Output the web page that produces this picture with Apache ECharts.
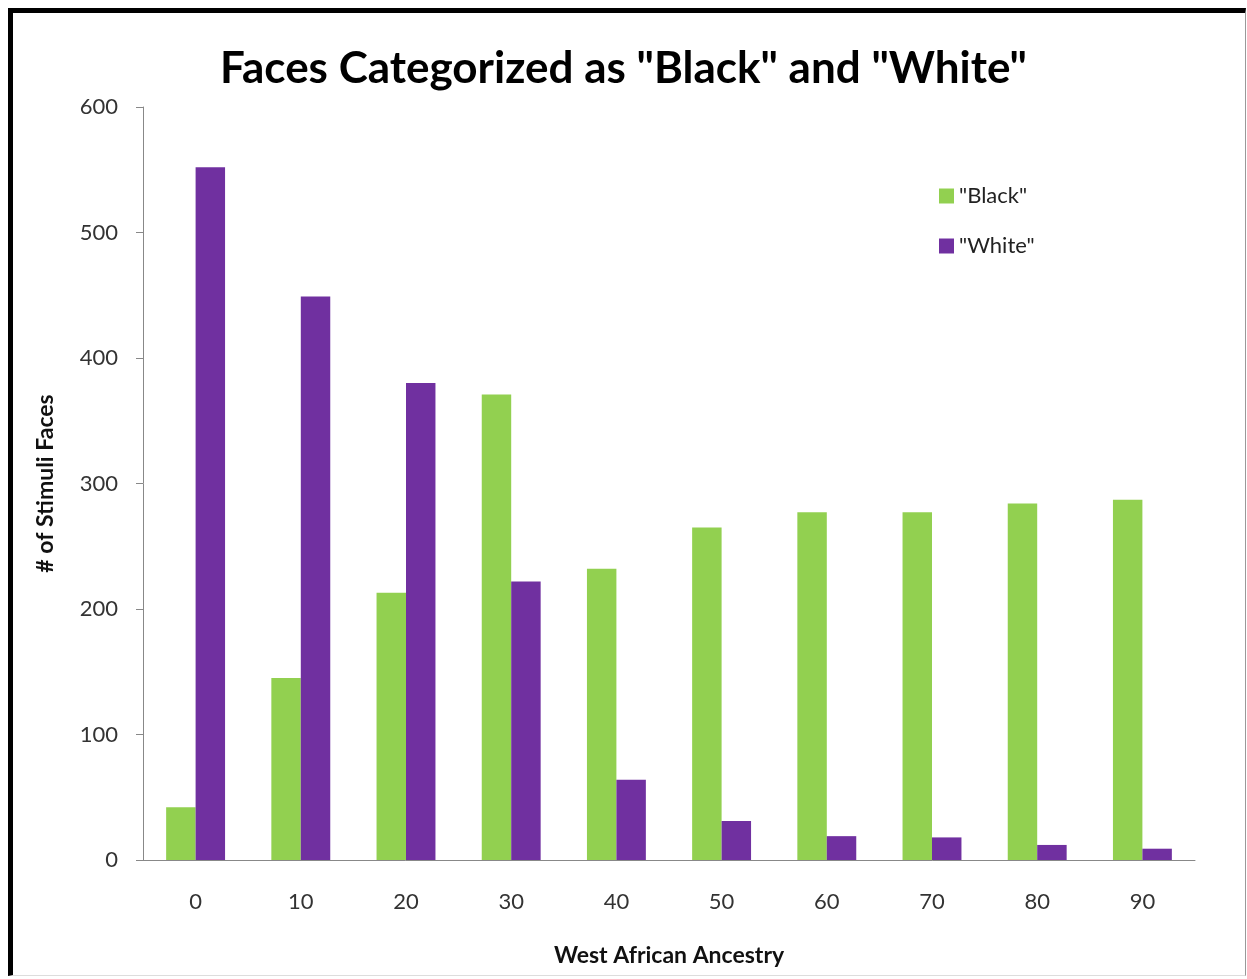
<!DOCTYPE html>
<html>
<head>
<meta charset="utf-8">
<title>Faces Categorized as "Black" and "White"</title>
<script src="https://cdn.jsdelivr.net/npm/echarts@6/dist/echarts.min.js"></script>
<style>
  html, body { margin: 0; padding: 0; background: #fff; }
  #wrap { position: relative; width: 1247px; height: 979px; overflow: hidden; }
  #chart { position: absolute; left: 0; top: 0; width: 1247px; height: 979px; }
  #frame {
    position: absolute; left: 8px; top: 8px; width: 1232px; height: 962px;
    border-left: 5px solid #000; border-top: 5px solid #000;
    border-right: 1px solid #999; border-bottom: 1px solid #ddd;
    pointer-events: none;
  }
</style>
</head>
<body>
<div id="wrap">
  <div id="chart"></div>
  <div id="frame"></div>
</div>
<script>
// Share of West African ancestry in the stimulus faces (%)
const ancestry = ['0', '10', '20', '30', '40', '50', '60', '70', '80', '90'];
// Number of faces categorized as "Black" at each ancestry level
const blackCounts = [42, 145, 213, 371, 232, 265, 277, 277, 284, 287];
// Number of faces categorized as "White" at each ancestry level
const whiteCounts = [552, 449, 380, 222, 64, 31, 19, 18, 12, 9];
const yTicks = { min: 0, max: 600, interval: 100 };

const font = 'Lato, "Open Sans", "DejaVu Sans", sans-serif';
const chart = echarts.init(document.getElementById('chart'), null, { renderer: 'canvas' });

chart.setOption({
  backgroundColor: '#ffffff',
  animation: false,
  title: {
    text: 'Faces Categorized as "Black" and "White"',
    left: 'center',
    top: 42,
    textStyle: { fontFamily: font, fontSize: 44, fontWeight: 'bold', color: '#000' }
  },
  legend: {
    orient: 'vertical',
    left: 934,
    top: 180,
    itemWidth: 15,
    itemHeight: 15,
    itemGap: 28,
    icon: 'rect',
    textStyle: { fontFamily: font, fontSize: 22, lineHeight: 22, color: '#222' },
    data: ['"Black"', '"White"']
  },
  grid: { left: 143, right: 52, top: 107, bottom: 119 },
  xAxis: {
    type: 'category',
    data: ancestry,
    name: 'West African Ancestry',
    nameLocation: 'middle',
    nameGap: 84,
    nameTextStyle: { fontFamily: font, fontSize: 23, fontWeight: 'bold', color: '#111' },
    axisLine: { show: true, lineStyle: { color: '#888', width: 1 } },
    axisTick: { show: false },
    axisLabel: { fontFamily: font, fontSize: 22, color: '#333', margin: 31 }
  },
  yAxis: {
    type: 'value',
    min: yTicks.min,
    max: yTicks.max,
    interval: yTicks.interval,
    name: '# of Stimuli Faces',
    nameLocation: 'middle',
    nameGap: 86,
    nameRotate: 90,
    nameTextStyle: { fontFamily: font, fontSize: 23, fontWeight: 'bold', color: '#111' },
    axisLine: { show: true, lineStyle: { color: '#888', width: 1 } },
    axisTick: { show: true, length: 7, inside: false, lineStyle: { color: '#888' } },
    splitLine: { show: false },
    axisLabel: { fontFamily: font, fontSize: 22, color: '#333', margin: 25 }
  },
  series: [
    {
      name: '"Black"',
      type: 'bar',
      data: blackCounts,
      itemStyle: { color: '#92D050' },
      barGap: '0%',
      barCategoryGap: '44%'
    },
    {
      name: '"White"',
      type: 'bar',
      data: whiteCounts,
      itemStyle: { color: '#7030A0' },
      barGap: '0%',
      barCategoryGap: '44%'
    }
  ]
});
</script>
</body>
</html>
